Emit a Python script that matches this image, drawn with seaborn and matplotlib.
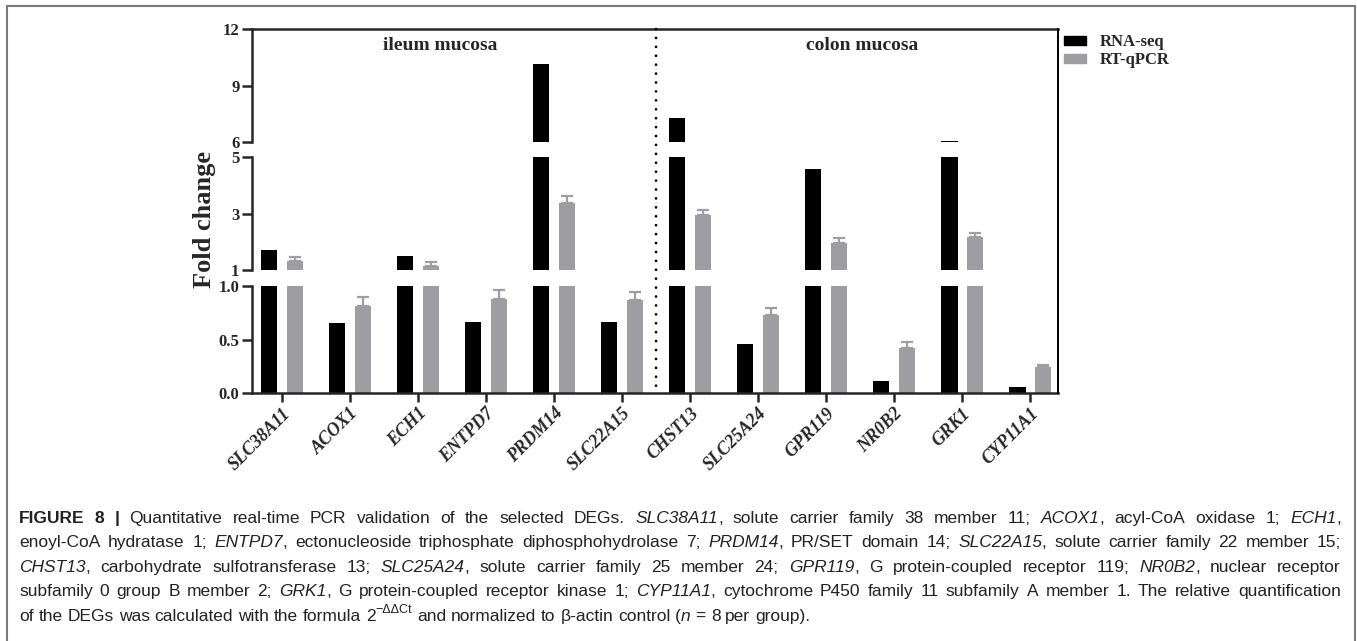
import numpy as np
import pandas as pd
import seaborn as sns
import matplotlib
matplotlib.use('Agg')
import matplotlib.pyplot as plt
from matplotlib.patches import ConnectionPatch, Patch
from matplotlib.lines import Line2D

# Дані
genes = ['SLC38A11', 'ACOX1', 'ECH1', 'ENTPD7', 'PRDM14', 'SLC22A15',
         'CHST13', 'SLC25A24', 'GPR119', 'NR0B2', 'GRK1', 'CYP11A1']
rna_seq = [1.71, 0.65, 1.50, 0.66, 10.14, 0.66, 7.27, 0.46, 4.58, 0.11, 6.05, 0.056]
rt_qpcr = [1.32, 0.81, 1.14, 0.88, 3.37, 0.87, 2.95, 0.73, 1.96, 0.42, 2.17, 0.24]
rt_qpcr_err = [0.14, 0.09, 0.14, 0.08, 0.25, 0.07, 0.17, 0.06, 0.17, 0.06, 0.14, 0.02]
methods = ['RNA-seq', 'RT-qPCR']
regions = ['ileum mucosa', 'colon mucosa']

# сегменти розірваної осі y: (низ, верх, тіки, підписи)
segments = [(6, 12, [6, 9, 12], ['6', '9', '12']),
            (1, 5, [1, 3, 5], ['1', '3', '5']),
            (0, 1, [0, 0.5, 1.0], ['0.0', '0.5', '1.0'])]

caption = [
    [('FIGURE 8 |', 'b'), (' Quantitative real-time PCR validation of the selected DEGs. ', 'n'),
     ('SLC38A11', 'i'), (', solute carrier family 38 member 11; ', 'n'), ('ACOX1', 'i'),
     (', acyl-CoA oxidase 1; ', 'n'), ('ECH1', 'i'), (',', 'n')],
    [('enoyl-CoA hydratase 1; ', 'n'), ('ENTPD7', 'i'),
     (', ectonucleoside triphosphate diphosphohydrolase 7; ', 'n'), ('PRDM14', 'i'),
     (', PR/SET domain 14; ', 'n'), ('SLC22A15', 'i'), (', solute carrier family 22 member 15;', 'n')],
    [('CHST13', 'i'), (', carbohydrate sulfotransferase 13; ', 'n'), ('SLC25A24', 'i'),
     (', solute carrier family 25 member 24; ', 'n'), ('GPR119', 'i'),
     (', G protein-coupled receptor 119; ', 'n'), ('NR0B2', 'i'), (', nuclear receptor', 'n')],
    [('subfamily 0 group B member 2; ', 'n'), ('GRK1', 'i'),
     (', G protein-coupled receptor kinase 1; ', 'n'), ('CYP11A1', 'i'),
     (', cytochrome P450 family 11 subfamily A member 1. The relative quantification', 'n')],
    [('of the DEGs was calculated with the formula 2', 'n'), ('−ΔΔCt', 's'),
     (' and normalized to β-actin control (', 'n'), ('n', 'i'), ('  = 8 per group).', 'n')],
]

BLACK = '#000000'
GRAY = '#9d9da2'
W, H = 1357, 641

sns.set_style('ticks')
plt.rcParams['font.family'] = ['Liberation Serif', 'DejaVu Serif']
plt.rcParams['font.weight'] = 'bold'

df = pd.DataFrame({'gene': genes * 2,
                   'value': rna_seq + rt_qpcr,
                   'method': [methods[0]] * len(genes) + [methods[1]] * len(genes)})

fig = plt.figure(figsize=(W / 100, H / 100), dpi=100)


def box(x0, y0, x1, y1):
    return [x0 / W, 1 - y1 / H, (x1 - x0) / W, (y1 - y0) / H]


ax_top = fig.add_axes(box(252, 29, 1058, 142))
ax_mid = fig.add_axes(box(252, 157, 1058, 270))
ax_bot = fig.add_axes(box(252, 286, 1058, 393))
axes = [ax_top, ax_mid, ax_bot]

qp = np.array(rt_qpcr)
qe = np.array(rt_qpcr_err)
for ax, (lo, hi, ticks, labels) in zip(axes, segments):
    sns.barplot(data=df, x='gene', y='value', hue='method', palette=[BLACK, GRAY],
                width=0.75, gap=0.36, linewidth=0, saturation=1, legend=False, ax=ax)
    xs = np.array([p.get_x() + p.get_width() / 2 for p in ax.containers[1]])
    m = (qp >= lo) & (qp < hi)
    if m.any():
        ax.errorbar(xs[m], qp[m], yerr=[np.zeros(m.sum()), qe[m]], fmt='none',
                    ecolor=GRAY, elinewidth=1.6, capsize=4.5, capthick=1.6)
    ax.set_ylim(lo, hi)
    ax.set_xlim(-0.44, len(genes) - 0.59)
    ax.set_yticks(ticks)
    ax.set_yticklabels(labels)
    ax.set_xlabel('')
    ax.set_ylabel('')
    ax.set_facecolor('none')
    for s in ['top', 'right', 'bottom']:
        ax.spines[s].set_visible(False)
    ax.spines['left'].set_linewidth(1.8)
    ax.tick_params(axis='y', length=7, width=1.8, labelsize=12, pad=2)
    ax.tick_params(axis='x', bottom=False, labelbottom=False)

ax_top.spines['top'].set_visible(True)
ax_top.spines['top'].set_linewidth(1.8)
ax_bot.spines['bottom'].set_visible(True)
ax_bot.spines['bottom'].set_linewidth(1.8)
ax_bot.tick_params(axis='x', bottom=True, labelbottom=True, length=6.5, width=1.8, pad=2)
ax_bot.set_xticks(range(len(genes)))
ax_bot.set_xticklabels(genes, rotation=45, ha='right', va='top', rotation_mode='anchor',
                       style='italic', fontsize=13)

# права рамка та пунктирна лінія між відділами
fig.add_artist(ConnectionPatch((1, 1), (1, 0), ax_top.transAxes, ax_bot.transAxes,
                               color=BLACK, lw=1.4))
fig.add_artist(ConnectionPatch((5.5, 12), (5.5, 0), ax_top.transData, ax_bot.transData,
                               color=BLACK, lw=2, linestyle=(0, (0.01, 3.2)), capstyle='round'))

ax_top.text(2.32, 11.15, regions[0], ha='center', va='center', fontsize=14)
ax_top.text(8.53, 11.15, regions[1], ha='center', va='center', fontsize=14)

fig.text(205 / W, 1 - 220 / H, 'Fold change', rotation=90, ha='center', va='center', fontsize=19)

handles = [Patch(color=BLACK, label=methods[0]), Patch(color=GRAY, label=methods[1])]
fig.legend(handles=handles, loc='upper left', bbox_to_anchor=(1064 / W, 1 - 34 / H),
           frameon=False, fontsize=12, handlelength=1.3, handleheight=0.45,
           handletextpad=0.85, labelspacing=0.15, borderpad=0, borderaxespad=0)

# рамка рисунка
fc = '#7a7a7a'
fig.add_artist(Line2D([7 / W, 7 / W], [0, 1 - 6 / H], color=fc, lw=1.5))
fig.add_artist(Line2D([1355 / W, 1355 / W], [0, 1 - 6 / H], color=fc, lw=1.5))
fig.add_artist(Line2D([7 / W, 1355 / W], [1 - 6 / H, 1 - 6 / H], color=fc, lw=1.5))

# підпис рисунка (вирівнювання по ширині)
renderer = fig.canvas.get_renderer()
CFONT = ['Liberation Sans', 'DejaVu Sans']
cfs = 12.5
styles = {'n': dict(weight='normal', style='normal'),
          'b': dict(weight='bold', style='normal'),
          'i': dict(weight='normal', style='italic'),
          's': dict(weight='normal', style='normal')}


def split_words(runs):
    words = [[]]
    for text, st in runs:
        parts = text.split(' ')
        for k, part in enumerate(parts):
            if k > 0:
                words.append([])
            if part:
                words[-1].append((part, st))
    return [w for w in words if w]


def draw_word(word, x, y):
    for text, st in word:
        fs = cfs * 0.72 if st == 's' else cfs
        dy = -cfs * 100 / 72 * 0.42 if st == 's' else 0
        t = fig.text(x / W, 1 - (y + dy) / H, text, fontsize=fs, family=CFONT, color='#222222',
                     va='baseline', ha='left', **styles[st])
        x += t.get_window_extent(renderer).width
    return x


def word_width(word):
    tot = 0
    for text, st in word:
        fs = cfs * 0.72 if st == 's' else cfs
        t = fig.text(0, 0, text, fontsize=fs, family=CFONT, **styles[st])
        tot += t.get_window_extent(renderer).width
        t.remove()
    return tot


probe = fig.text(0, 0, 'a a', fontsize=cfs, family=CFONT, weight='normal')
probe2 = fig.text(0, 0, 'aa', fontsize=cfs, family=CFONT, weight='normal')
space_w = probe.get_window_extent(renderer).width - probe2.get_window_extent(renderer).width
probe.remove()
probe2.remove()

left, right = 19, 1341
for i, runs in enumerate(caption):
    words = split_words(runs)
    widths = [word_width(w) for w in words]
    if i < len(caption) - 1:
        gap = (right - left - sum(widths)) / (len(words) - 1)
    else:
        gap = space_w
    x = left
    y = 523 + i * 24.4
    for w, ww in zip(words, widths):
        draw_word(w, x, y)
        x += ww + gap

fig.savefig('out.png', dpi=100)
